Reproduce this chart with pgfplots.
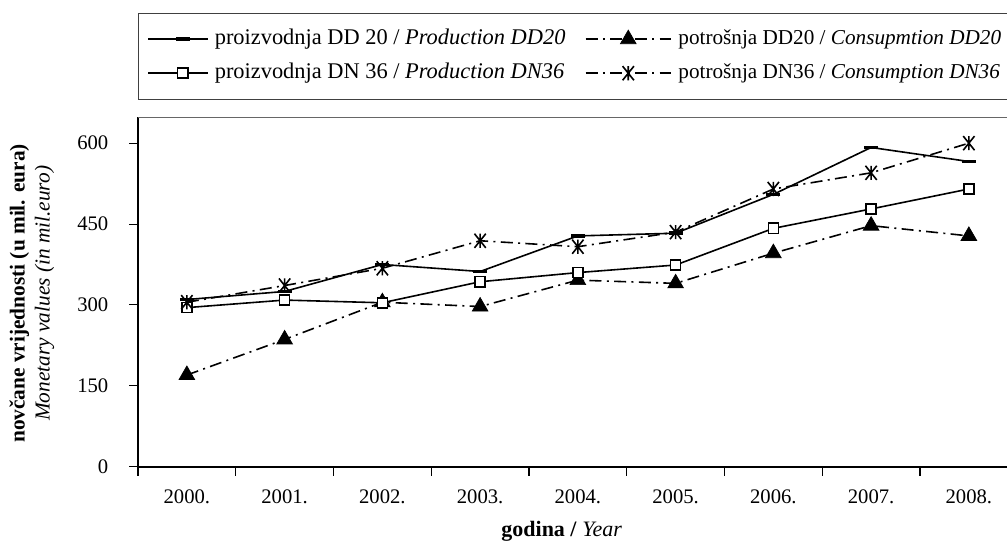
\documentclass[border=0pt]{standalone}
\usepackage{fontspec}
\setmainfont{Liberation Serif}
\usepackage{pgfplots}
\pgfplotsset{compat=1.18}

\pgfdeclareplotmark{xstar}{%
  \pgfpathmoveto{\pgfqpoint{0pt}{\pgfplotmarksize}}%
  \pgfpathlineto{\pgfqpoint{0pt}{-\pgfplotmarksize}}%
  \pgfpathmoveto{\pgfqpoint{-0.8\pgfplotmarksize}{\pgfplotmarksize}}%
  \pgfpathlineto{\pgfqpoint{0.8\pgfplotmarksize}{-\pgfplotmarksize}}%
  \pgfpathmoveto{\pgfqpoint{-0.8\pgfplotmarksize}{-\pgfplotmarksize}}%
  \pgfpathlineto{\pgfqpoint{0.8\pgfplotmarksize}{\pgfplotmarksize}}%
  \pgfusepathqstroke}

\tikzset{dashdot/.style={dash pattern=on 9pt off 4pt on 1.5pt off 4pt}}
\pgfplotsset{
  legshort/.style={legend image code/.code={\draw[mark repeat=2,mark phase=2,##1] plot coordinates {(0pt,0pt)(26pt,0pt)(45pt,0pt)};}},
  leglong/.style={legend image code/.code={\draw[mark repeat=2,mark phase=2,##1] plot coordinates {(0pt,0pt)(32pt,0pt)(64pt,0pt)};}},
}

\begin{document}
\begin{tikzpicture}
\begin{scope}
\clip (0,0) rectangle (755.25pt,405.75pt);
\begin{axis}[
  at={(103.5pt,55.725pt)}, anchor=south west,
  scale only axis, width=659.8pt, height=262.05pt,
  xmin=-0.5, xmax=8.5, ymin=0, ymax=648,
  axis x line*=bottom, axis y line*=left,
  axis line style={line width=1.5pt, black, -},
  xtick={0,...,8},
  xticklabels={2000.,2001.,2002.,2003.,2004.,2005.,2006.,2007.,2008.},
  minor xtick={-0.5,0.5,...,8.5},
  ytick={0,150,300,450,600},
  tick align=outside,
  major tick length=6.75pt,
  minor tick length=6.75pt,
  tick style={line width=0.8pt, black},
  major x tick style={draw=none},
  minor x tick style={line width=0.8pt, black},
  /pgf/number format/assume math mode=true,
  tick label style={font=\fontsize{15.5}{18}\selectfont},
  xticklabel style={yshift=-7pt},
  yticklabel style={xshift=-12pt},
  every axis y label/.style={at={(axis description cs:-0.1205,0.496)}, rotate=90, anchor=center, align=center, font=\fontsize{16}{18.75}\selectfont},
  ylabel={\textbf{novčane vrijednosti (u mil. eura)}\\\textit{Monetary values (in mil.euro)}},
  every axis x label/.style={at={(axis description cs:0.4816,-0.185)}, anchor=center, font=\fontsize{16.5}{19}\selectfont},
  xlabel={\textbf{godina /} \textit{Year}},
  legend columns=2,
  legend cell align=left,
  legend style={at={(axis description cs:0.0003,1.2994)}, anchor=north west,
    draw=black!75, line width=0.8pt, inner xsep=6.3pt, inner ysep=12pt,
    font=\fontsize{16.8}{19}\selectfont,
    nodes={inner sep=0pt, text height=11.5pt, text depth=3.5pt},
    row sep=10.5pt,
    /tikz/column 1/.style={column sep=4.5pt},
    /tikz/column 2/.style={column sep=14.5pt},
    /tikz/column 3/.style={column sep=5pt}},
]
\addplot[black, line width=1.2pt, mark=-, mark size=5.2pt, mark options={solid, line width=2.8pt}, legshort]
  coordinates {(0,310) (1,325) (2,375) (3,362) (4,428) (5,433) (6,505) (7,592) (8,566)};
\addlegendentry{proizvodnja DD 20 / \textit{Production DD20}}

\addplot[black, line width=1.2pt, dashdot, mark=triangle*, mark size=6.8pt, mark options={solid, line width=0.5pt, fill=black}, leglong]
  coordinates {(0,170) (1,236) (2,305) (3,297) (4,346) (5,340) (6,396) (7,447) (8,428)};
\addlegendentry{\fontsize{15.9}{19}\selectfont potrošnja DD20 / \textit{Consupmtion DD20}}

\addplot[black, line width=1.2pt, mark=square*, mark size=3.8pt, mark options={solid, line width=1.2pt, fill=white}, legshort]
  coordinates {(0,295) (1,309) (2,304) (3,343) (4,360) (5,374) (6,442) (7,478) (8,515)};
\addlegendentry{proizvodnja DN 36 / \textit{Production DN36}}

\addplot[black, line width=1.2pt, dashdot, mark=xstar, mark size=5.3pt, mark options={solid, line width=1.2pt}, leglong]
  coordinates {(0,305) (1,336) (2,368) (3,419) (4,408) (5,435) (6,515) (7,545) (8,600)};
\addlegendentry{\fontsize{15.9}{19}\selectfont potrošnja DN36 / \textit{Consumption DN36}}

\draw[black!60, line width=0.8pt] (axis description cs:0,1) -- (axis description cs:1,1);
\end{axis}
\end{scope}
\pgfresetboundingbox
\path[use as bounding box] (0,0) rectangle (755.25pt,405.75pt);
\end{tikzpicture}
\end{document}
